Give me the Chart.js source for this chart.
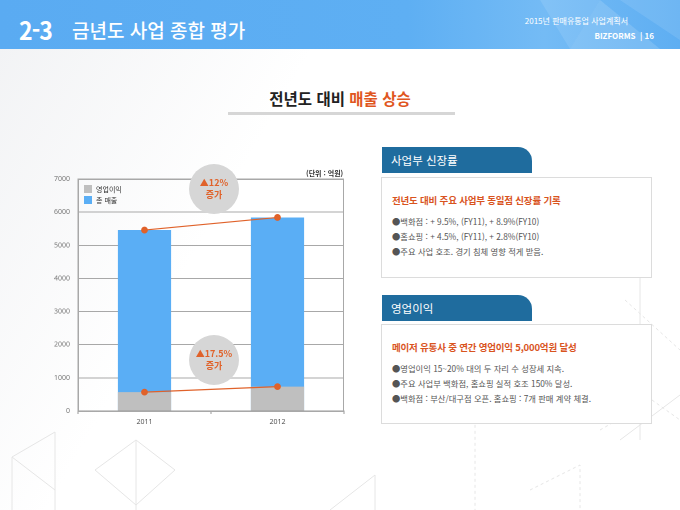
<!DOCTYPE html>
<html lang="ko">
<head>
<meta charset="utf-8">
<script src="https://cdn.jsdelivr.net/npm/chart.js@4.4.1/dist/chart.umd.min.js"></script>
<style>
  html, body { margin: 0; padding: 0; }
  body {
    width: 680px; height: 510px; position: relative; overflow: hidden;
    font-family: "Noto Sans CJK KR", "Noto Sans", sans-serif;
    background: linear-gradient(120deg, #f1f2f4 0%, #ffffff 35%, #ffffff 100%);
  }
  .header {
    position: absolute; left: 0; top: 0; width: 680px; height: 49px; overflow: hidden;
    background: linear-gradient(90deg, #5aabf2 0%, #5eaff3 60%, #74bbf5 80%, #5eaef2 100%);
  }
  .header .num { position: absolute; left: 19px; top: 11px; color: #fff; font-size: 25px; font-weight: 700; letter-spacing: -1px; transform: scaleX(0.92); transform-origin: left; }
  .header .ttl { position: absolute; left: 72px; top: 16px; color: #fff; font-size: 19px; font-weight: 500; }
  .header .doc { position: absolute; right: 52px; top: 15px; color: #fff; font-size: 8px; }
  .header .brand { position: absolute; right: 26px; top: 30px; color: #fff; font-size: 8px; font-weight: 700; }
  .subtitle { position: absolute; left: 0; width: 680px; top: 87px; text-align: center; font-size: 15.5px; font-weight: 700; color: #222; }
  .subtitle span { color: #e0561e; }
  .rule { position: absolute; left: 228px; top: 112px; width: 227px; height: 3px; background: #d6d6d6; }
  #wrap { position: absolute; left: 40px; top: 160px; width: 310px; height: 270px; }
  .unit { position: absolute; left: 306px; top: 168px; font-size: 7px; font-weight: 700; color: #333; }
  .legend { position: absolute; left: 84px; top: 184px; font-size: 7px; color: #333; line-height: 11px; }
  .legend i { display: inline-block; width: 8px; height: 8px; margin-right: 4px; vertical-align: -1px; }
  .bubble {
    position: absolute; width: 50px; height: 50px; border-radius: 50%; background: #d6d6d6;
    color: #e0622a; font-size: 9px; font-weight: 700; text-align: center; line-height: 12px;
    display: flex; flex-direction: column; justify-content: center;
  }
  .tab {
    position: absolute; left: 382px; width: 150px; height: 26px; background: #1f6c9e;
    border-top-right-radius: 14px; color: #fff; font-size: 11.5px; line-height: 27px; padding-left: 9px; box-sizing: border-box;
  }
  .box {
    position: absolute; left: 381px; width: 271px; background: #fff; border: 1px solid #dcdcdc; box-sizing: border-box;
    padding: 15px 0 0 10px;
  }
  .box h4 { margin: 0 0 7px 0; font-size: 9.5px; color: #d9541e; font-weight: 700; letter-spacing: -0.2px; }
  .box p { margin: 0; font-size: 8.3px; color: #555; line-height: 15px; }
</style>
</head>
<body>
<svg width="680" height="510" style="position:absolute;left:0;top:0" stroke="#e6e6e6" fill="none" stroke-width="1">
  <path d="M12 457 L55 432 L55 510 M12 457 L12 510 M12 457 L55 490 M95 470 L136 440 L136 510 M95 470 L136 505 M136 440 L175 470 L136 505"/>
  <path d="M420 375 L475 340 L475 510 M420 375 L475 420 M530 490 L580 465 L580 510 M600 430 L652 400 L680 420 M625 300 L680 350" stroke-dasharray="3 3"/>
  <path d="M330 510 L375 475 L375 510 M620 440 L680 395 M640 270 L640 440"/>
</svg>

<div class="header">
  <svg width="680" height="49" style="position:absolute;left:0;top:0" fill="#ffffff" stroke="none">
    <path d="M540 0 L600 0 L570 49 Z" fill-opacity="0.10"/>
    <path d="M600 0 L660 49 L570 49 Z" fill-opacity="0.14"/>
    <path d="M620 0 L680 0 L680 40 Z" fill-opacity="0.10"/>
  </svg>
  <div class="num">2-3</div>
  <div class="ttl">금년도 사업 종합 평가</div>
  <div class="doc">2015년 판매유통업 사업계획서</div>
  <div class="brand">BIZFORMS &nbsp;|&nbsp;16</div>
</div>

<div class="subtitle">전년도 대비 <span>매출 상승</span></div>
<div class="rule"></div>

<div id="wrap"><canvas id="c"></canvas></div>
<div class="unit">(단위 : 억원)</div>
<div class="legend" id="legend"></div>
<div class="bubble" style="left:189px;top:164px">▲12%<br>증가</div>
<div class="bubble" style="left:189px;top:335px">▲17.5%<br>증가</div>

<div class="tab" style="top:147px">사업부 신장률</div>
<div class="box" style="top:177px;height:101px">
  <h4>전년도 대비 주요 사업부 동일점 신장률 기록</h4>
  <p>●백화점 : + 9.5%, (FY11), + 8.9%(FY10)</p>
  <p>●홈쇼핑 : + 4.5%, (FY11), + 2.8%(FY10)</p>
  <p>●주요 사업 호조. 경기 침체 영향 적게 받음.</p>
</div>

<div class="tab" style="top:295px">영업이익</div>
<div class="box" style="top:324px;height:100px">
  <h4>메이저 유통사 중 연간 영업이익 5,000억원 달성</h4>
  <p>●영업이익 15~20% 대의 두 자리 수 성장세 지속.</p>
  <p>●주요 사업부 백화점, 홈쇼핑 실적 호조 150% 달성.</p>
  <p>●백화점 : 부산/대구점 오픈. 홈쇼핑 : 7개 판매 계약 체결.</p>
</div>

<script>
const years = ["2011", "2012"];
const totalSales = [5460, 5840];
const operatingProfit = [570, 735];
const seriesNames = ["영업이익", "총 매출"];
const yTicks = [0, 1000, 2000, 3000, 4000, 5000, 6000, 7000];

const GRAY = "#bfbfbf";
const BLUE = "#5aaef5";
const ORANGE = "#e0622a";

// legend drawn as plain html in the top-left corner of the plot
document.getElementById("legend").innerHTML = seriesNames
    .map((name, i) => `<div><i style="background:${[GRAY, BLUE][i]}"></i>${name}</div>`)
    .join("");

// thin frame round the plot area
const frame = {
    id: "frame",
    afterDraw(chart) {
        const { ctx, chartArea: a } = chart;
        ctx.save();
        ctx.strokeStyle = "#a8a8a8";
        ctx.lineWidth = 1;
        ctx.strokeRect(a.left + 0.5, a.top + 0.5, a.right - a.left - 1, a.bottom - a.top);
        ctx.restore();
    },
};

const lineSet = (data) => ({
    type: "line",
    data: data,
    borderColor: ORANGE,
    backgroundColor: ORANGE,
    borderWidth: 1.2,
    pointRadius: 2.8,
    pointHoverRadius: 2.8,
    order: 0,
});

new Chart(document.getElementById("c"), {
    data: {
        labels: years,
        datasets: [
            lineSet(totalSales),
            lineSet(operatingProfit),
            { type: "bar", label: seriesNames[0], data: operatingProfit, backgroundColor: GRAY, order: 1 },
            { type: "bar", label: seriesNames[1], data: totalSales, backgroundColor: BLUE, order: 2 },
        ],
    },
    options: {
        responsive: true,
        maintainAspectRatio: false,
        animation: false,
        devicePixelRatio: 2,
        layout: { padding: { top: 19, right: 6, left: 0, bottom: 0 } },
        datasets: { bar: { barPercentage: 0.8, categoryPercentage: 0.5 } },
        plugins: { legend: { display: false }, tooltip: { enabled: false } },
        scales: {
            x: {
                stacked: true,
                offset: true,
                grid: { drawOnChartArea: false, color: "#999", tickLength: 3 },
                border: { color: "#999" },
                ticks: { font: { size: 7, family: "Noto Sans" }, color: "#555", padding: 4 },
                afterFit: (s) => { s.height = 19; },
            },
            y: {
                stacked: false,
                min: 0,
                max: 7000,
                afterBuildTicks: (s) => { s.ticks = yTicks.map((v) => ({ value: v })); },
                grid: { color: "#a8a8a8", drawTicks: false },
                border: { color: "#a8a8a8" },
                ticks: {
                    font: { size: 7, family: "Noto Sans" },
                    color: "#777",
                    padding: 8,
                    callback: (v) => String(v),
                },
                afterFit: (s) => { s.width = 38; },
            },
        },
    },
    plugins: [frame],
});
</script>
</body>
</html>
